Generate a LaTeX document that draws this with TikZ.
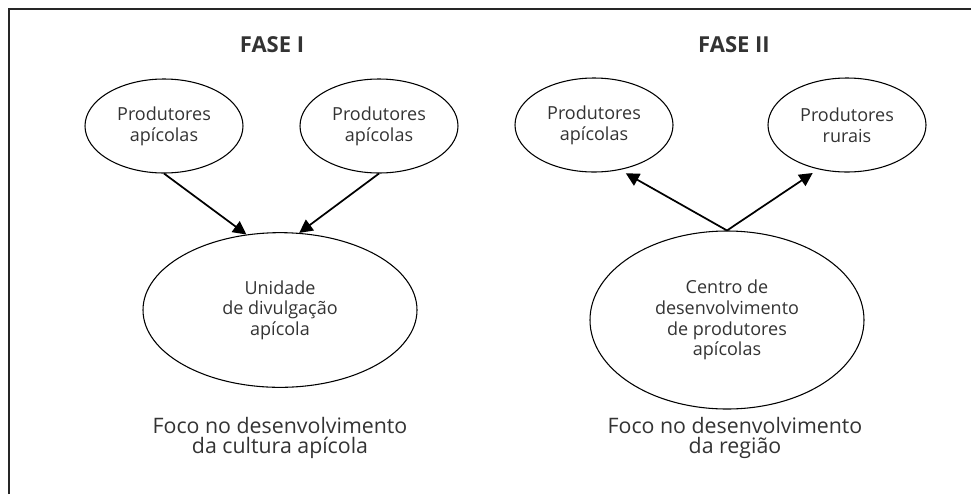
\documentclass[tikz,border=0pt]{standalone}
\usepackage{fontspec}
\setmainfont{Open Sans}
\usetikzlibrary{shapes.geometric,arrows.meta}
\definecolor{texto}{HTML}{333333}
\begin{document}
\begin{tikzpicture}[x=0.75pt,y=-0.75pt,
  small node/.style={ellipse,draw,line width=0.8pt,minimum width=118.5pt,minimum height=70.5pt,inner sep=0pt,align=center,text=texto,font=\fontsize{13.5}{15.5}\selectfont},
  big node/.style={small node,minimum width=205.5pt,minimum height=116pt},
  title node/.style={text=texto,font=\fontsize{16.5}{20}\selectfont\bfseries},
  focus node/.style={align=center,text=texto,font=\fontsize{16}{15}\selectfont},
  seta/.style={-{Triangle[length=10pt,width=10pt]},line width=1.3pt}]
  \useasboundingbox (0,0) rectangle (971,494);
  \draw[line width=1pt,black!85] (9,494) -- (9,9) -- (971,9);

  \node[title node] at (272, 45) (f1) {FASE I};
  \node[title node] at (734, 45) (f2) {FASE II};

  \node[small node] at (164, 126) (pa1) {Produtores\\apícolas};
  \node[small node] at (379, 126) (pa2) {Produtores\\apícolas};
  \node[big node] at (280, 310) (ud) {Unidade\\de divulgação\\apícola};
  \node[focus node] at (280, 438) (foco1) {Foco no desenvolvimento\\da cultura apícola};

  \node[small node] at (594, 125) (pa3) {Produtores\\apícolas};
  \node[small node] at (847, 125) (pr) {Produtores\\rurais};
  \node[big node,minimum height=133.5pt] at (727, 320) (cd) {Centro de\\desenvolvimento\\de produtores\\apícolas};
  \node[focus node] at (735, 438) (foco2) {Foco no desenvolvimento\\da região};

  \draw[seta] (pa1.south) -- (ud.114);
  \draw[seta] (pa2.south) -- (ud.76);
  \draw[seta,shorten >=5pt] (cd.north) -- (pa3.-60);
  \draw[seta,shorten >=5pt] (cd.north) -- (pr.-123);
\end{tikzpicture}
\end{document}
